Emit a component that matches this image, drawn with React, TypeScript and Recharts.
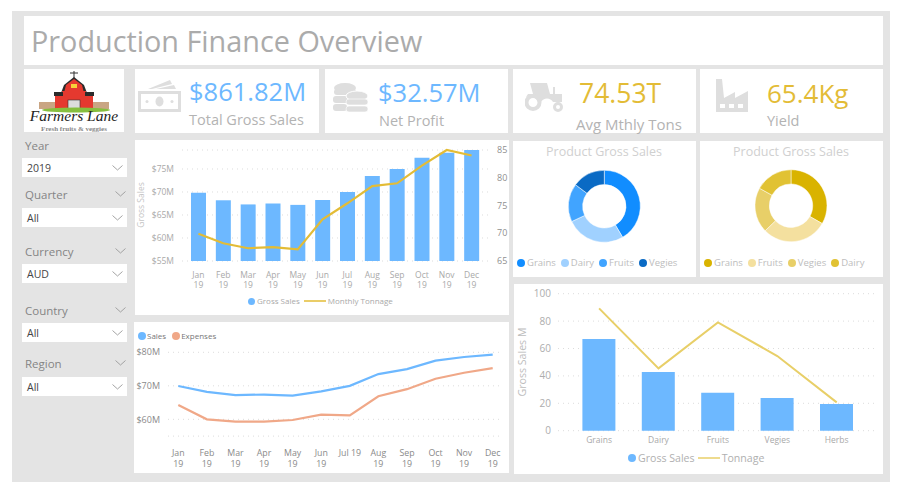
import React from 'react';
import {
  ComposedChart, LineChart, PieChart, Pie, Bar, Line, XAxis, YAxis, CartesianGrid, Legend,
} from 'recharts';

const FONT = '"Open Sans", "Noto Sans", sans-serif';
const BLUE = '#6DB8FF';
const GOLD = '#E3BC36';
const TONNAGE_GOLD = '#E8CF68';
const ORANGE = '#F0A888';

// ---- data ----
const months = ['Jan 19', 'Feb 19', 'Mar 19', 'Apr 19', 'May 19', 'Jun 19', 'Jul 19', 'Aug 19', 'Sep 19', 'Oct 19', 'Nov 19', 'Dec 19'];
const grossSales = [69.86, 68.2, 67.3, 67.5, 67.2, 68.26, 70, 73.5, 75, 77.46, 78.55, 79.13];
const monthlyTonnage = [69.9, 68.2, 67.3, 67.5, 67.1, 72.5, 75.4, 78.5, 79, 82.2, 85, 84];
const sales = [69.95, 68.2, 67.2, 67.4, 67.1, 68.35, 70, 73.5, 75, 77.5, 78.6, 79.3];
const expenses = [64.3, 60, 59.3, 59.3, 59.8, 61.4, 61.2, 66.9, 69, 72.1, 73.9, 75.3];

const products = ['Grains', 'Dairy', 'Fruits', 'Vegies', 'Herbs'];
const productSales = [66.9, 42.8, 27.7, 23.8, 19.5];
const productTonnage = [89.3, 45.5, 79, 54.5, 20.7];

const donutBlueNames = ['Grains', 'Dairy', 'Fruits', 'Vegies'];
const donutBlueValues = [66.9, 42.8, 27.7, 23.8];
const donutBlueColors = ['#118DFF', '#A0D1FF', '#41A4FF', '#0A6AC4'];

const donutGoldNames = ['Grains', 'Fruits', 'Vegies', 'Dairy'];
const donutGoldValues = [89.3, 79, 54.5, 45.5];
const donutGoldColors = ['#D9B300', '#F4E09F', '#E8CF68', '#E1C233'];

const leftTicks = [55, 60, 65, 70, 75];
const rightTicks = [65, 70, 75, 80, 85];
const lineTicks = [60, 70, 80];
const productTicks = [0, 20, 40, 60, 80, 100];

const monthlyRows = months.map((month, i) => ({ month, gross: grossSales[i], tons: monthlyTonnage[i], sales: sales[i], expenses: expenses[i] }));
const productRows = products.map((product, i) => ({ product, sales: productSales[i], tons: productTonnage[i] }));
const blueRows = donutBlueNames.map((name, i) => ({ name, value: donutBlueValues[i], fill: donutBlueColors[i] }));
const goldRows = donutGoldNames.map((name, i) => ({ name, value: donutGoldValues[i], fill: donutGoldColors[i] }));

// ---- helpers ----
const Panel = ({ x, y, w, h, children }: any) => (
  <div style={{ position: 'absolute', left: x, top: y, width: w, height: h, background: '#fff', overflow: 'hidden' }}>{children}</div>
);

const Txt = ({ x, cy, size, color, children, weight, spacing }: any) => (
  <div style={{ position: 'absolute', left: x, top: cy - size, height: size * 2, lineHeight: `${size * 2}px`, fontSize: size, color, fontFamily: FONT, whiteSpace: 'nowrap', fontWeight: weight, letterSpacing: spacing }}>{children}</div>
);

const LegendRow = ({ payload, size, color, gap, lineW, dot, dotGap = 2 }: any) => (
  <div style={{ display: 'flex', alignItems: 'center', whiteSpace: 'nowrap', fontSize: size, color, fontFamily: FONT, lineHeight: '14px' }}>
    {(payload || []).map((e: any) => (
      <span key={e.value} style={{ display: 'inline-flex', alignItems: 'center', marginRight: gap }}>
        {e.type === 'line' ? (
          <svg width={lineW} height={8} style={{ marginRight: 2 }}><line x1={0} x2={lineW} y1={4} y2={4} stroke={e.color} strokeWidth={1.5} /></svg>
        ) : (
          <svg width={dot} height={dot} style={{ marginRight: dotGap }}><circle cx={dot / 2} cy={dot / 2} r={dot / 2} fill={e.color} /></svg>
        )}
        {e.value}
      </span>
    ))}
  </div>
);

const MonthTick = ({ x, y, payload, color, size, keepJul, dy1, step }: any) => {
  const value: string = payload.value;
  const single = keepJul && value === 'Jul 19';
  const parts = single ? [value] : value.split(' ');
  return (
    <g>
      {parts.map((p: string, i: number) => (
        <text key={i} x={x} y={y + dy1 + i * step} textAnchor="middle" fill={color} fontSize={size} fontFamily={FONT}>{p}</text>
      ))}
    </g>
  );
};

const Chevron = ({ x, cy }: any) => (
  <svg style={{ position: 'absolute', left: x, top: cy - 3 }} width={11} height={6}>
    <path d="M0.5 0.5 L5.5 5 L10.5 0.5" fill="none" stroke="#9a9a9a" strokeWidth={0.9} />
  </svg>
);

const Slicer = ({ label, labelCy, top, value, labelChevron = true }: any) => (
  <>
    <Txt x={25} cy={labelCy} size={11.5} color="#858585">{label}</Txt>
    {labelChevron && <Chevron x={115} cy={labelCy} />}
    <div style={{ position: 'absolute', left: 22, top, width: 105, height: 19, background: '#fff' }} />
    <Txt x={27} cy={top + 10} size={10.5} color="#444">{value}</Txt>
    <Chevron x={112} cy={top + 10} />
  </>
);

const IconMoney = () => (
  <svg style={{ position: 'absolute', left: 138, top: 79 }} width={44} height={34} fill="#dedede">
    <path d="M10 10 L32 1 L34 5 L14 10Z M18 10 L36 6 L38 10Z" />
    <path fillRule="evenodd" d="M0 12 H43 V33 H0Z M3 15 V30 H40 V15Z" />
    <ellipse cx={21.5} cy={22.5} rx={4} ry={5} />
    <circle cx={9} cy={22.5} r={1.5} />
    <circle cx={34} cy={22.5} r={1.5} />
  </svg>
);

const IconCoins = () => (
  <svg style={{ position: 'absolute', left: 333, top: 82 }} width={36} height={31} fill="#dedede">
    <ellipse cx={12} cy={6} rx={11} ry={5} />
    <rect x={1} y={7} width={22} height={6} rx={3} />
    <rect x={0} y={14} width={20} height={7} rx={3} />
    <rect x={0} y={22} width={14} height={7} rx={3} />
    <ellipse cx={24} cy={14} rx={11} ry={5} stroke="#fff" strokeWidth={1} />
    <rect x={13} y={17} width={22} height={6} rx={3} stroke="#fff" strokeWidth={0.6} />
    <rect x={13} y={24} width={22} height={6} rx={3} stroke="#fff" strokeWidth={0.6} />
  </svg>
);

const IconTractor = () => (
  <svg style={{ position: 'absolute', left: 525, top: 82 }} width={39} height={30} fill="#dedede">
    <path d="M5 1 H22 L25 12 H28 V5 H30 V12 H37 V20 H28 A7 7 0 0 0 16 20 H13 A9 9 0 0 0 1 15 L3 12 H8Z" />
    <path fillRule="evenodd" d="M8 12 A8.5 8.5 0 1 1 8 29 A8.5 8.5 0 1 1 8 12Z M8 16 A4.5 4.5 0 1 0 8 25 A4.5 4.5 0 1 0 8 16Z" />
    <path fillRule="evenodd" d="M33 20 A5 5 0 1 1 33 30 A5 5 0 1 1 33 20Z M33 23 A2 2 0 1 0 33 27 A2 2 0 1 0 33 23Z" />
  </svg>
);

const IconFactory = () => (
  <svg style={{ position: 'absolute', left: 716, top: 79 }} width={33} height={34}>
    <path fillRule="evenodd" fill="#dedede" d="M0 0 H6 L8 19 L19 13 V19 L32 12 V33 H0Z M4 25 V29 H9 V25Z M13 25 V29 H18 V25Z M22 25 V29 H27 V25Z" />
  </svg>
);

const Logo = () => (
  <svg width={100} height={63} style={{ position: 'absolute', left: 0, top: 0 }}>
    <path d="M50 2 V10 M46 4 L54 4" stroke="#333" strokeWidth={1} />
    <path d="M40 16 L50 8 L60 16 L63 24 H37Z" fill="#2b2b2b" />
    <rect x={38} y={22} width={24} height={19} fill="#E5392F" />
    <path d="M42 16 L50 10 L58 16 L60 24 H40Z" fill="#E5392F" />
    <rect x={30} y={23} width={9} height={4} fill="#2b2b2b" />
    <rect x={61} y={23} width={9} height={4} fill="#2b2b2b" />
    <rect x={31} y={27} width={8} height={13} fill="#E5392F" />
    <rect x={61} y={27} width={8} height={13} fill="#E5392F" />
    <rect x={47} y={15} width={6} height={4} fill="#F6D13A" />
    <rect x={44} y={31} width={12} height={10} fill="#ddd" stroke="#333" strokeWidth={0.6} />
    <rect x={15} y={33} width={16} height={7} fill="#C9A583" />
    <rect x={69} y={33} width={16} height={7} fill="#C9A583" />
    <ellipse cx={52} cy={41} rx={34} ry={2.5} fill="#86BF3F" />
    <text x={50} y={52} textAnchor="middle" fontFamily='"Liberation Serif", serif' fontStyle="italic" fontSize={15.5} fill="#222">Farmers Lane</text>
    <text x={50} y={61.5} textAnchor="middle" fontFamily='"Liberation Serif", serif' fontSize={7} fontWeight={700} fill="#888">Fresh fruits &amp; veggies</text>
  </svg>
);

const DonutLegend = (props: any) => <LegendRow {...props} size={9.5} color="#bdbdbd" gap={5} dot={8} lineW={10} />;

const Donut = ({ rows, cx, cy }: any) => (
  <PieChart width={183} height={136} margin={{ top: 0, right: 0, bottom: 0, left: 0 }}>
    <Pie data={rows} dataKey="value" nameKey="name" cx={cx} cy={cy} innerRadius={21.7} outerRadius={36} startAngle={90} endAngle={-270}
      stroke="#fff" strokeWidth={0.5} legendType="circle" isAnimationActive={false} />
    <Legend layout="horizontal" verticalAlign="middle" align="center" itemSorter={null as any} content={<DonutLegend />}
      wrapperStyle={{ left: 4, top: 115, width: 179 }} />
  </PieChart>
);

// ---- app ----
export default function App() {
  return (
    <div style={{ position: 'absolute', left: 0, top: 0, width: 900, height: 490, background: '#fff', overflow: 'hidden', fontFamily: FONT }}>
      <div style={{ position: 'absolute', left: 12, top: 11, width: 878, height: 471, background: '#E4E4E4' }} />

      {/* title */}
      <Panel x={24} y={16} w={859} h={49} />
      <Txt x={31} cy={41} size={28.8} color="#ABABAB">Production Finance Overview</Txt>

      {/* logo */}
      <Panel x={24} y={69} w={100} h={63}><Logo /></Panel>

      {/* KPI tiles */}
      <Panel x={135} y={69} w={184} h={64} />
      <Panel x={325} y={69} w={183} h={64} />
      <Panel x={513} y={69} w={183} h={64} />
      <Panel x={700} y={69} w={183} h={64} />
      <IconMoney />
      <IconCoins />
      <IconTractor />
      <IconFactory />
      <Txt x={189} cy={91} size={25.5} color={BLUE}>$861.82M</Txt>
      <Txt x={189} cy={119} size={14.5} color="#B3B3B3">Total Gross Sales</Txt>
      <Txt x={378} cy={92} size={25.5} color={BLUE}>$32.57M</Txt>
      <Txt x={379} cy={120} size={14.5} color="#B3B3B3">Net Profit</Txt>
      <Txt x={579} cy={93} size={26.5} color={GOLD}>74.53T</Txt>
      <Txt x={576} cy={124} size={15} color="#B3B3B3">Avg Mthly Tons</Txt>
      <Txt x={767} cy={93} size={26} color={GOLD}>65.4Kg</Txt>
      <Txt x={767} cy={120} size={14.5} color="#B3B3B3">Yield</Txt>

      {/* slicers */}
      <Slicer label="Year" labelCy={145} top={158} value="2019" labelChevron={false} />
      <Slicer label="Quarter" labelCy={194} top={208} value="All" />
      <Slicer label="Currency" labelCy={251} top={264} value="AUD" />
      <Slicer label="Country" labelCy={310} top={323} value="All" />
      <Slicer label="Region" labelCy={363} top={377} value="All" />

      {/* monthly gross sales + tonnage */}
      <Panel x={135} y={140} w={374} h={175}>
        <ComposedChart width={374} height={175} data={monthlyRows} margin={{ top: 10, right: 0, bottom: 0, left: 0 }}>
          <CartesianGrid yAxisId="left" vertical={false} stroke="#dcdcdc" strokeDasharray="1 4" />
          <XAxis dataKey="month" height={54} interval={0} axisLine={false} tickLine={false} tickSize={0} padding={{ left: 4, right: 4 }}
            tick={<MonthTick color="#a9a9a9" size={8.5} dy1={15} step={10} />} />
          <YAxis yAxisId="left" width={47} domain={[55, 79.13]} ticks={leftTicks} allowDataOverflow axisLine={false} tickLine={false} tickSize={0} tickMargin={8}
            tickFormatter={(v: number) => `$${v}M`} tick={{ fill: '#a9a9a9', fontSize: 8.5, fontFamily: FONT }} />
          <YAxis yAxisId="right" orientation="right" width={21} domain={[65, 85]} ticks={rightTicks} axisLine={false} tickLine={false} tickSize={0} tickMargin={9}
            tick={{ fill: '#8f8f8f', fontSize: 9, fontFamily: FONT }} />
          <Bar yAxisId="left" dataKey="gross" name="Gross Sales" fill={BLUE} barSize={15} legendType="circle" isAnimationActive={false} />
          <Line yAxisId="right" dataKey="tons" name="Monthly Tonnage" stroke={GOLD} strokeWidth={2.2} dot={false} legendType="line" isAnimationActive={false} />
          <text transform="translate(7,65) rotate(-90)" textAnchor="middle" dominantBaseline="middle" fontSize={8.5} fill="#c4c4c4" fontFamily={FONT}>Gross Sales</text>
          <Legend layout="horizontal" verticalAlign="middle" align="center" itemSorter={null as any}
            content={(p: any) => <LegendRow {...p} size={8} color="#a9a9a9" gap={4} dot={7} lineW={22} />}
            wrapperStyle={{ left: 113, top: 154, width: 261 }} />
        </ComposedChart>
      </Panel>

      {/* sales vs expenses */}
      <Panel x={134} y={322} w={375} h={151}>
        <LineChart width={375} height={151} data={monthlyRows} margin={{ top: 30.3, right: 7, bottom: 0, left: 0 }}>
          <CartesianGrid vertical={false} stroke="#dcdcdc" strokeDasharray="1 4" />
          <XAxis dataKey="month" height={36.9} interval={0} axisLine={false} tickLine={false} tickSize={0} padding={{ left: 10.3, right: 9.3 }}
            tick={<MonthTick color="#8a8a8a" size={8.8} dy1={18} step={11.2} keepJul />} />
          <YAxis width={34} domain={[55, 80]} ticks={lineTicks} allowDataOverflow axisLine={false} tickLine={false} tickSize={0} tickMargin={8}
            tickFormatter={(v: number) => `$${v}M`} tick={{ fill: '#8a8a8a', fontSize: 9, fontFamily: FONT }} />
          <Line dataKey="sales" name="Sales" stroke={BLUE} strokeWidth={2.2} dot={false} legendType="circle" isAnimationActive={false} />
          <Line dataKey="expenses" name="Expenses" stroke={ORANGE} strokeWidth={2.2} dot={false} legendType="circle" isAnimationActive={false} />
          <Legend layout="horizontal" verticalAlign="middle" align="center" itemSorter={null as any}
            content={(p: any) => <LegendRow {...p} size={8} color="#777" gap={6} dot={8} dotGap={1} lineW={10} />}
            wrapperStyle={{ left: 4, top: 7, width: 300 }} />
        </LineChart>
      </Panel>

      {/* donuts */}
      <Panel x={513} y={141} w={183} h={136}>
        <Donut rows={blueRows} cx={91.3} cy={65.3} />
        <Txt x={33} cy={10} size={12.5} color="#D0D0D0">Product Gross Sales</Txt>
      </Panel>
      <Panel x={700} y={141} w={183} h={136}>
        <Donut rows={goldRows} cx={91} cy={64.7} />
        <Txt x={33} cy={10} size={12.5} color="#D0D0D0">Product Gross Sales</Txt>
      </Panel>

      {/* products */}
      <Panel x={514} y={284} w={369} h={190}>
        <ComposedChart width={369} height={190} data={productRows} margin={{ top: 9.7, right: 5, bottom: 0, left: 0 }}>
          <CartesianGrid vertical={false} stroke="#dcdcdc" strokeDasharray="1 4" />
          <XAxis dataKey="product" height={43.3} interval={0} axisLine={false} tickLine={false} tickSize={0} tickMargin={6} padding={{ left: 11.4, right: 11.6 }}
            tick={{ fill: '#a9a9a9', fontSize: 8.5, fontFamily: FONT }} />
          <YAxis width={44} domain={[0, 100]} ticks={productTicks} axisLine={false} tickLine={false} tickSize={0} tickMargin={7}
            tick={{ fill: '#adadad', fontSize: 10, fontFamily: FONT }} />
          <Bar dataKey="sales" name="Gross Sales" fill={BLUE} barSize={33} legendType="circle" isAnimationActive={false} />
          <Line dataKey="tons" name="Tonnage" stroke={TONNAGE_GOLD} strokeWidth={2} dot={false} legendType="line" isAnimationActive={false} />
          <text transform="translate(8.7,78) rotate(-90)" textAnchor="middle" dominantBaseline="middle" fontSize={10.6} fill="#bdbdbd" fontFamily={FONT}>Gross Sales M</text>
          <Legend layout="horizontal" verticalAlign="middle" align="center" itemSorter={null as any}
            content={(p: any) => <LegendRow {...p} size={10.6} color="#b0b0b0" gap={3} dot={8} lineW={22} />}
            wrapperStyle={{ left: 114, top: 167, width: 255 }} />
        </ComposedChart>
      </Panel>
    </div>
  );
}
